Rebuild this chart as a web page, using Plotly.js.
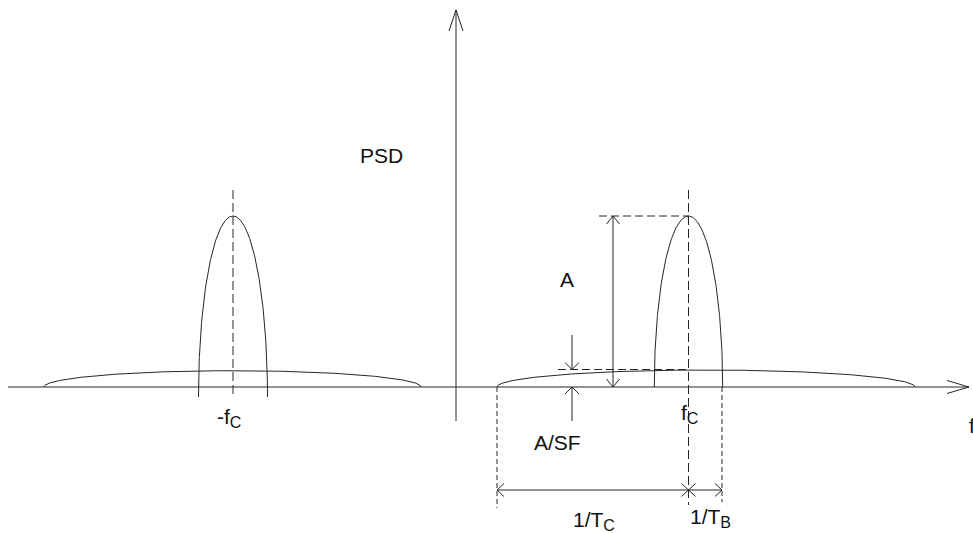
<!DOCTYPE html>
<html>
<head>
<meta charset="utf-8">
<script src="https://cdn.plot.ly/plotly-3.0.1.min.js"></script>
<style>html,body{margin:0;padding:0;background:#fff;}#chart{width:973px;height:533px;}</style>
</head>
<body>
<div id="chart"></div>
<script>
// ---- data (frequency offset units, PSD units) ----
const humpNames      = ['wideband -fC', 'narrowband -fC', 'wideband fC', 'narrowband fC'];
const humpCenter     = [-223.5, -223, 250, 232.5];
const humpHalfWidth  = [188.5, 34.5, 209, 34.2];
const humpBase       = [0, -10, 0, 0];
const humpHeight     = [16.3, 181, 17, 171];

const fC      = 232.5;      // carrier frequency
const negFC   = -223;       // negative carrier frequency
const peakA   = 171;        // narrowband peak A
const floorSF = 17.5;       // spread level A/SF
const chipEdge = 41;        // fC - 1/TC
const bitEdge  = 266;       // fC + 1/TB

const subC = '<sub><span style="font-size:16px">C</span></sub>';
const subB = '<sub><span style="font-size:16px">B</span></sub>';
const labelTexts = ['PSD', 'A', 'A/SF', '-f' + subC, 'f' + subC, '1/T' + subC, '1/T' + subB, 'f'];

// ---- helpers ----
function ellipse(c, w, b, h) {
  const xs = [], ys = [];
  const n = 200;
  for (let i = 0; i <= n; i++) {
    const t = Math.PI * i / n;
    xs.push(c - w * Math.cos(t));
    ys.push(b + h * Math.sin(t));
  }
  return {x: xs, y: ys};
}
function head(tx, ty, dx, dy, len, hw) {
  const L = Math.hypot(dx, dy); const ux = dx / L, uy = dy / L;
  const bx = tx - ux * len, by = ty - uy * len;
  const px = -uy, py = ux;
  return {x: [bx + px * hw, tx, bx - px * hw, null], y: [by + py * hw, ty, by - py * hw, null]};
}
const LC = '#262626';
const traces = [];
function line(xs, ys, dash, w) {
  traces.push({type: 'scatter', mode: 'lines', x: xs, y: ys, hoverinfo: 'skip', showlegend: false,
    line: {color: LC, width: w || 1, dash: dash || 'solid'}});
}

// humps
for (let i = 0; i < humpNames.length; i++) {
  const e = ellipse(humpCenter[i], humpHalfWidth[i], humpBase[i], humpHeight[i]);
  line(e.x, e.y);
}

// axes
line([-448, 513], [0, 0]);
line([0, 0], [-34, 377]);
let h1 = head(513, 0, 1, 0, 22, 6.5); line(h1.x, h1.y);
let h2 = head(0, 377, 0, 1, 21, 7); line(h2.x, h2.y);

// dashed guides
line([negFC, negFC], [197, -11], '9px,4px');
line([fC, fC], [197, -118], '9px,4px');
line([chipEdge, chipEdge], [0, -121], '5px,3px');
line([bitEdge, bitEdge], [0, -115], '5px,3px');
line([143, fC], [peakA, peakA], '8px,4px');
line([102, fC], [floorSF, floorSF], '8px,4px');

// A arrow
const ax = 157;
line([ax, ax], [0, peakA]);
let a1 = head(ax, peakA, 0, 1, 8, 6.5); line(a1.x, a1.y);
let a2 = head(ax, 0, 0, -1, 8, 6.5); line(a2.x, a2.y);

// A/SF arrows
const sx = 116;
line([sx, sx], [52, floorSF]);
let s1 = head(sx, floorSF, 0, -1, 7, 7); line(s1.x, s1.y);
line([sx, sx], [-34, 0]);
let s2 = head(sx, 0, 0, 1, 7, 7); line(s2.x, s2.y);

// 1/TC and 1/TB arrows
const ty = -103;
line([chipEdge, bitEdge], [ty, ty]);
let t1 = head(chipEdge, ty, -1, 0, 7, 6.5); line(t1.x, t1.y);
let t2 = head(fC, ty, 1, 0, 7, 6.5); line(t2.x, t2.y);
let t3 = head(fC, ty, -1, 0, 7, 6.5); line(t3.x, t3.y);
let t4 = head(bitEdge, ty, 1, 0, 7, 6.5); line(t4.x, t4.y);

// labels (positions kept separately)
const labelPos = [[-75, 232, 'center'], [110.7, 107.5, 'center'], [101.5, -55, 'center'], [-227, -31, 'center'],
                  [233, -27, 'center'], [138, -134, 'center'], [254, -131, 'center'], [511, -38, 'left']];
const annotations = labelTexts.map((t, i) => ({
  x: labelPos[i][0], y: labelPos[i][1], xref: 'x', yref: 'y', text: t, showarrow: false,
  xanchor: labelPos[i][2], yanchor: 'middle',
  font: {family: 'Liberation Sans, Arial, sans-serif', size: 21, color: '#111'}
}));

const layout = {
  width: 973, height: 533,
  margin: {l: 0, r: 0, t: 0, b: 0, pad: 0},
  paper_bgcolor: '#fff', plot_bgcolor: '#fff',
  xaxis: {range: [-456, 517], visible: false, fixedrange: true},
  yaxis: {range: [-146, 387], visible: false, fixedrange: true},
  showlegend: false,
  annotations: annotations
};
Plotly.newPlot('chart', traces, layout, {staticPlot: true, displayModeBar: false});
</script>
</body>
</html>
